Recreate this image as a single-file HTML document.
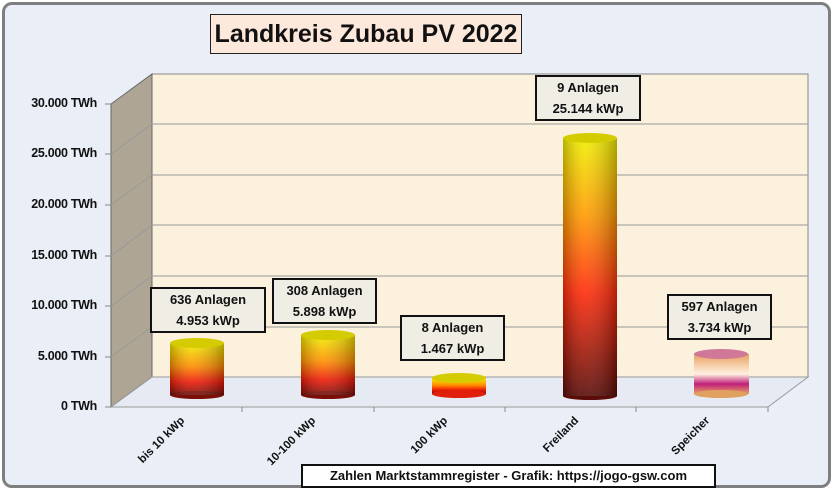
<!DOCTYPE html><html><head><style>
body{margin:0;width:833px;height:489px;overflow:hidden;background:#fff;font-family:"Liberation Sans",sans-serif}
.lb{position:absolute;background:#efede4;border:2px solid #111;font-weight:bold;font-size:13px;text-align:center;line-height:21px;color:#111;box-sizing:border-box}
.t{position:absolute;font-weight:bold;font-size:12.5px;color:#111;text-align:right;width:95px;left:2px;letter-spacing:-0.3px}
.x{position:absolute;font-weight:bold;font-size:11.5px;color:#111;transform:rotate(-45deg);transform-origin:right center;white-space:nowrap;text-align:right;width:80px}
</style></head><body>
<div style="position:absolute;left:2px;top:2px;width:823px;height:480px;border:3px solid #7f7f7f;border-radius:10px;background:#e9eef7"></div>
<svg style="position:absolute;left:0;top:0" width="833" height="489">
<defs>
<linearGradient id="g1" x1="0" y1="0" x2="0" y2="1"><stop offset="0" stop-color="#f2f000"/><stop offset="0.45" stop-color="#ff8c00"/><stop offset="0.75" stop-color="#ee1a08"/><stop offset="1" stop-color="#7a0f08"/></linearGradient>
<linearGradient id="g4" x1="0" y1="0" x2="0" y2="1"><stop offset="0" stop-color="#f2f000"/><stop offset="0.3" stop-color="#ff9a00"/><stop offset="0.6" stop-color="#ff2a0a"/><stop offset="1" stop-color="#5a0c08"/></linearGradient>
<linearGradient id="g5" x1="0" y1="0" x2="0" y2="1"><stop offset="0" stop-color="#e8a060"/><stop offset="0.5" stop-color="#fff0e0"/><stop offset="0.75" stop-color="#c0207a"/><stop offset="1" stop-color="#e8a060"/></linearGradient>
<linearGradient id="sh" x1="0" y1="0" x2="1" y2="0"><stop offset="0" stop-color="#000" stop-opacity=".25"/><stop offset=".4" stop-color="#fff" stop-opacity=".1"/><stop offset="1" stop-color="#000" stop-opacity=".3"/></linearGradient>
</defs>
<polygon points="152,74 808,74 808,377 152,377" fill="#fcf1dc" stroke="#888"/>
<polygon points="111,104 152,74 152,377 111,407" fill="#aea595" stroke="#666"/>
<polygon points="111,407 152,377 808,377 768,407" fill="#e6ebf3" stroke="#999"/>
<g stroke="#999" fill="none">
<polyline points="111,357 152,327 808,327"/><polyline points="111,306 152,276 808,276"/><polyline points="111,256 152,225 808,225"/><polyline points="111,205 152,175 808,175"/><polyline points="111,154 152,124 808,124"/>
</g>
<g stroke="#888"><line x1="105" y1="104" x2="111" y2="104"/><line x1="105" y1="154" x2="111" y2="154"/><line x1="105" y1="205" x2="111" y2="205"/><line x1="105" y1="256" x2="111" y2="256"/><line x1="105" y1="306" x2="111" y2="306"/><line x1="105" y1="357" x2="111" y2="357"/><line x1="105" y1="407" x2="111" y2="407"/>
<line x1="242" y1="407" x2="242" y2="412"/><line x1="374" y1="407" x2="374" y2="412"/><line x1="505" y1="407" x2="505" y2="412"/><line x1="636" y1="407" x2="636" y2="412"/><line x1="768" y1="407" x2="768" y2="412"/></g>
<g>
<rect x="170" y="343" width="54" height="52" fill="url(#g1)"/><ellipse cx="197" cy="395" rx="27" ry="4" fill="#7a0f08"/><rect x="170" y="343" width="54" height="52" fill="url(#sh)"/><ellipse cx="197" cy="343" rx="27" ry="5" fill="#d4cc00"/>
<rect x="301" y="335" width="54" height="60" fill="url(#g1)"/><ellipse cx="328" cy="395" rx="27" ry="4" fill="#7a0f08"/><rect x="301" y="335" width="54" height="60" fill="url(#sh)"/><ellipse cx="328" cy="335" rx="27" ry="5" fill="#d4cc00"/>
<rect x="432" y="378" width="54" height="16" fill="url(#g1)"/><ellipse cx="459" cy="394" rx="27" ry="4" fill="#e0200a"/><ellipse cx="459" cy="378" rx="27" ry="5" fill="#d4cc00"/>
<rect x="563" y="138" width="54" height="258" fill="url(#g4)"/><ellipse cx="590" cy="396" rx="27" ry="4" fill="#5a0c08"/><rect x="563" y="138" width="54" height="258" fill="url(#sh)"/><ellipse cx="590" cy="138" rx="27" ry="5" fill="#d4cc00"/>
<rect x="694" y="354" width="55" height="40" fill="url(#g5)"/><ellipse cx="721" cy="394" rx="27" ry="4" fill="#e0a060"/><ellipse cx="721" cy="354" rx="27" ry="5" fill="#d07898"/>
</g>
</svg>
<div style="position:absolute;left:210px;top:14px;width:312px;height:40px;box-sizing:border-box;border:1px solid #222;background:#fde9dc;font-weight:bold;font-size:25px;line-height:38px;text-align:center;color:#111">Landkreis Zubau PV 2022</div>
<div class="t" style="top:96px">30.000 TWh</div><div class="t" style="top:146px">25.000 TWh</div><div class="t" style="top:197px">20.000 TWh</div><div class="t" style="top:248px">15.000 TWh</div><div class="t" style="top:298px">10.000 TWh</div><div class="t" style="top:349px">5.000 TWh</div><div class="t" style="top:399px">0 TWh</div>
<div class="lb" style="left:150px;top:287px;width:116px;height:46px">636 Anlagen<br>4.953 kWp</div>
<div class="lb" style="left:272px;top:278px;width:105px;height:46px">308 Anlagen<br>5.898 kWp</div>
<div class="lb" style="left:400px;top:315px;width:105px;height:46px">8 Anlagen<br>1.467 kWp</div>
<div class="lb" style="left:535px;top:75px;width:106px;height:46px">9 Anlagen<br>25.144 kWp</div>
<div class="lb" style="left:667px;top:294px;width:105px;height:46px">597 Anlagen<br>3.734 kWp</div>
<div class="x" style="left:103px;top:413px">bis 10 kWp</div>
<div class="x" style="left:234px;top:413px">10-100 kWp</div>
<div class="x" style="left:366px;top:413px">100 kWp</div>
<div class="x" style="left:497px;top:413px">Freiland</div>
<div class="x" style="left:628px;top:413px">Speicher</div>
<div style="position:absolute;left:301px;top:464px;width:415px;height:24px;box-sizing:border-box;border:2px solid #111;background:#fff;font-weight:bold;font-size:13px;line-height:20px;text-align:center;color:#111">Zahlen Marktstammregister - Grafik: https://jogo-gsw.com</div>
</body></html>
